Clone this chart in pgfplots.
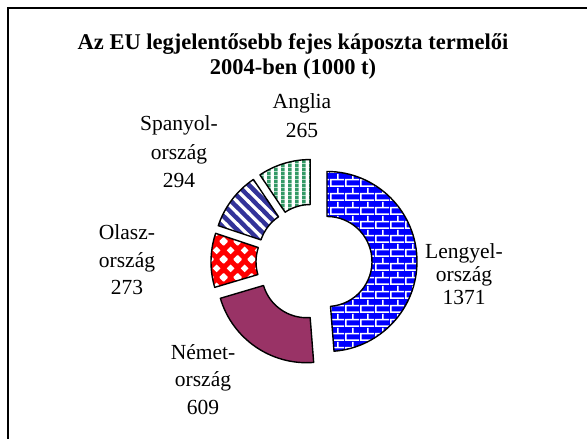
\documentclass[border=0pt]{standalone}
\usepackage{pgfplots}
\usepackage{pgfplotstable}
\pgfplotsset{compat=1.18}
\usetikzlibrary{patterns}
\usepackage{fontspec}
\setmainfont{Liberation Serif}

\definecolor{plblue}{RGB}{0,0,255}
\definecolor{demaroon}{RGB}{153,51,102}
\definecolor{itred}{RGB}{255,0,0}
\definecolor{esnavy}{RGB}{51,51,153}
\definecolor{ukgreen}{RGB}{51,153,102}

% fill patterns (sizes in bp = pixels of the reference)
\pgfdeclarepatternformonly{mybricks}{\pgfpointorigin}{\pgfpoint{15bp}{14bp}}{\pgfpoint{15bp}{14bp}}{%
  \pgfsetlinewidth{1.6bp}%
  \pgfpathmoveto{\pgfpoint{0bp}{0.8bp}}\pgfpathlineto{\pgfpoint{15bp}{0.8bp}}%
  \pgfpathmoveto{\pgfpoint{0bp}{7.8bp}}\pgfpathlineto{\pgfpoint{15bp}{7.8bp}}%
  \pgfpathmoveto{\pgfpoint{0.8bp}{0bp}}\pgfpathlineto{\pgfpoint{0.8bp}{7bp}}%
  \pgfpathmoveto{\pgfpoint{8.3bp}{7bp}}\pgfpathlineto{\pgfpoint{8.3bp}{14bp}}%
  \pgfusepath{stroke}}
\pgfdeclarepatternformonly{nwstripes}{\pgfpoint{-2bp}{-2bp}}{\pgfpoint{13.3bp}{13.3bp}}{\pgfpoint{11.3bp}{11.3bp}}{%
  \pgfsetlinewidth{3.2bp}%
  \pgfpathmoveto{\pgfpoint{-2bp}{13.3bp}}\pgfpathlineto{\pgfpoint{13.3bp}{-2bp}}%
  \pgfusepath{stroke}}
\pgfdeclarepatternformonly{vstripes}{\pgfpointorigin}{\pgfpoint{6.5bp}{4bp}}{\pgfpoint{6.5bp}{4bp}}{%
  \pgfpathrectangle{\pgfpoint{0bp}{0bp}}{\pgfpoint{4bp}{4bp}}%
  \pgfusepath{fill}}
\pgfdeclarepatternformonly{diamonds}{\pgfpointorigin}{\pgfpoint{14bp}{18bp}}{\pgfpoint{14bp}{18bp}}{%
  \pgfpathmoveto{\pgfpoint{7bp}{5bp}}\pgfpathlineto{\pgfpoint{11bp}{9bp}}%
  \pgfpathlineto{\pgfpoint{7bp}{13bp}}\pgfpathlineto{\pgfpoint{3bp}{9bp}}\pgfpathclose
  \pgfpathmoveto{\pgfpoint{0bp}{-4bp}}\pgfpathlineto{\pgfpoint{4bp}{0bp}}%
  \pgfpathlineto{\pgfpoint{0bp}{4bp}}\pgfpathlineto{\pgfpoint{-4bp}{0bp}}\pgfpathclose
  \pgfpathmoveto{\pgfpoint{14bp}{-4bp}}\pgfpathlineto{\pgfpoint{18bp}{0bp}}%
  \pgfpathlineto{\pgfpoint{14bp}{4bp}}\pgfpathlineto{\pgfpoint{10bp}{0bp}}\pgfpathclose
  \pgfpathmoveto{\pgfpoint{0bp}{14bp}}\pgfpathlineto{\pgfpoint{4bp}{18bp}}%
  \pgfpathlineto{\pgfpoint{0bp}{22bp}}\pgfpathlineto{\pgfpoint{-4bp}{18bp}}\pgfpathclose
  \pgfpathmoveto{\pgfpoint{14bp}{14bp}}\pgfpathlineto{\pgfpoint{18bp}{18bp}}%
  \pgfpathlineto{\pgfpoint{14bp}{22bp}}\pgfpathlineto{\pgfpoint{10bp}{18bp}}\pgfpathclose
  \pgfusepath{fill}}

\tikzset{
  slice0/.style={preaction={fill=plblue}, pattern=mybricks, pattern color=white},
  slice1/.style={fill=demaroon},
  slice2/.style={preaction={fill=itred}, pattern=diamonds, pattern color=white},
  slice3/.style={preaction={fill=esnavy}, pattern=nwstripes, pattern color=white},
  slice4/.style={preaction={fill=white}, pattern=vstripes, pattern color=ukgreen},
}

% production 2004, 1000 t
\pgfplotstableread{
country value
Lengyel 1371
Nemet 609
Olasz 273
Spanyol 294
Anglia 265
}\kapdata

\begin{document}
\begin{tikzpicture}
% donut geometry (axis units = px of the reference, y up)
\def\cx{314}\def\cy{177}\def\explode{13}
\def\total{0}
\pgfplotsforeachungrouped \i in {0,...,4}{%
  \pgfplotstablegetelem{\i}{value}\of\kapdata
  \pgfmathsetmacro\total{\total+\pgfplotsretval}}
\def\cum{0}
\pgfplotsforeachungrouped \i in {0,...,4}{%
  \pgfplotstablegetelem{\i}{value}\of\kapdata
  \let\v\pgfplotsretval
  \pgfmathsetmacro\aone{90-(\cum/\total)*360}%
  \pgfmathsetmacro\cum{\cum+\v}%
  \pgfmathsetmacro\atwo{90-(\cum/\total)*360}%
  \pgfmathsetmacro\amid{(\aone+\atwo)/2}%
  \pgfmathsetmacro\sx{\cx+\explode*cos(\amid)}%
  \pgfmathsetmacro\sy{\cy+\explode*sin(\amid)}%
  \expandafter\xdef\csname aa\i\endcsname{\aone}%
  \expandafter\xdef\csname ab\i\endcsname{\atwo}%
  \expandafter\xdef\csname sx\i\endcsname{\sx}%
  \expandafter\xdef\csname sy\i\endcsname{\sy}}
\begin{axis}[
    x=1bp, y=1bp,
    xmin=0, xmax=587, ymin=0, ymax=439,
    hide axis, clip=false,
]
\coordinate (bbsw) at (axis cs:0,0);
\coordinate (bbne) at (axis cs:587,439);
% frame
\draw[black, line width=1.5bp] (axis cs:8,0) -- (axis cs:8,431) -- (axis cs:587,431);

\pgfplotsinvokeforeach{0,...,4}{
  \path[slice#1, draw=black, line width=1.4bp, line join=round]
    (axis cs:\csname sx#1\endcsname,\csname sy#1\endcsname)
    ++(\csname aa#1\endcsname:90bp)
    arc[start angle=\csname aa#1\endcsname, end angle=\csname ab#1\endcsname, radius=90bp]
    -- ++(\csname ab#1\endcsname+180:45bp)
    arc[start angle=\csname ab#1\endcsname, end angle=\csname aa#1\endcsname, radius=45bp]
    -- cycle;
}

% title
\node[anchor=base, font=\bfseries\fontsize{22.5bp}{26bp}\selectfont]
  at (axis cs:293,389) {Az EU legjelentősebb fejes káposzta termelői};
\node[anchor=base, font=\bfseries\fontsize{22.5bp}{26bp}\selectfont]
  at (axis cs:293,364) {2004-ben (1000 t)};

% data labels
\tikzset{lbl/.style={anchor=base, font=\fontsize{21.5bp}{25bp}\selectfont}}
\node[lbl] at (axis cs:302,330) {Anglia};
\node[lbl] at (axis cs:302,301) {265};
\node[lbl] at (axis cs:179,308) {Spanyol-};
\node[lbl] at (axis cs:179,279) {ország};
\node[lbl] at (axis cs:179,251) {294};
\node[lbl] at (axis cs:127,199) {Olasz-};
\node[lbl] at (axis cs:127,171) {ország};
\node[lbl] at (axis cs:127,144) {273};
\node[lbl] at (axis cs:203,79) {Német-};
\node[lbl] at (axis cs:203,52) {ország};
\node[lbl] at (axis cs:203,24) {609};
\node[lbl] at (axis cs:464,180) {Lengyel-};
\node[lbl] at (axis cs:464,157) {ország};
\node[lbl] at (axis cs:464,134) {1371};
\end{axis}
\pgfresetboundingbox
\path[use as bounding box] (bbsw) rectangle (bbne);
\end{tikzpicture}
\end{document}
